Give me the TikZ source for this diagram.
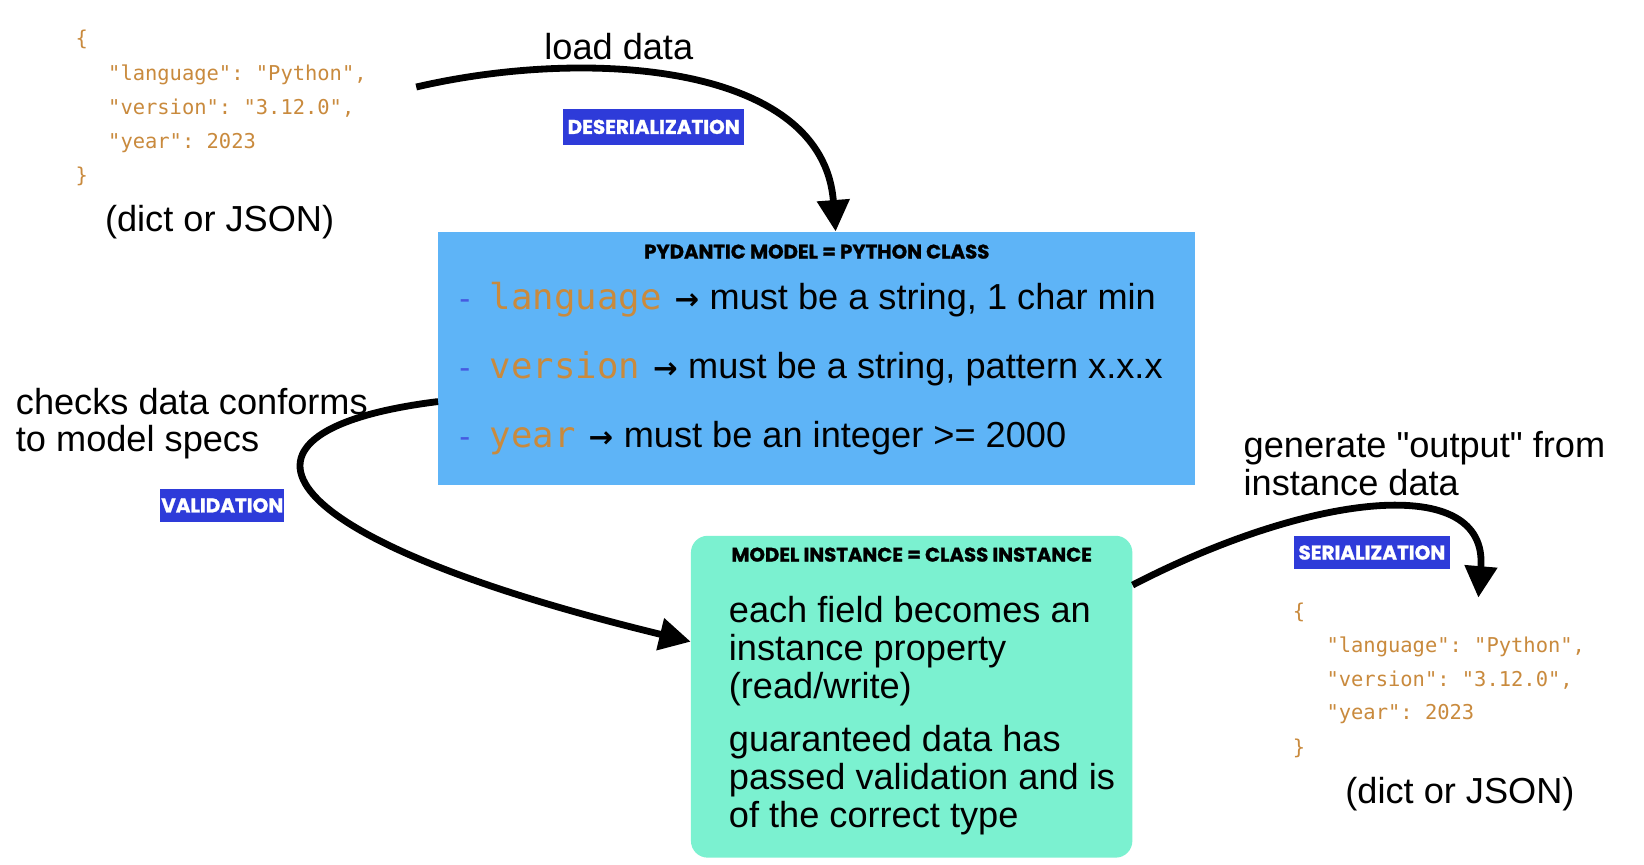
\documentclass[tikz,border=0pt]{standalone}
\usepackage{fontspec}
\setmainfont{Liberation Sans}[Ligatures=TeXOff]
\newfontfamily\codefont{DejaVu Sans Mono}
\newfontfamily\labfont{Poppins}[BoldFeatures={FakeBold=1.2}]
\newfontfamily\arrfont{DejaVu Sans}
\usetikzlibrary{arrows.meta}
\definecolor{modelblue}{RGB}{94,180,247}
\definecolor{instgreen}{RGB}{123,241,208}
\definecolor{tagblue}{RGB}{46,59,217}
\definecolor{codeorange}{RGB}{201,138,61}
\definecolor{dashblue}{RGB}{70,90,225}
\newcommand{\bodysize}{\fontsize{34.5}{36}\selectfont}
\newcommand{\codesize}{\fontsize{19.5}{22}\selectfont}
\frenchspacing
\begin{document}
\begin{tikzpicture}[x=1pt,y=-1pt,
  code/.style={anchor=west,inner sep=0pt,font=\codefont\codesize,text=codeorange},
  body/.style={anchor=west,inner sep=0pt,font=\bodysize,align=left,text=black},
  fieldname/.style={anchor=base west,inner sep=0pt,font=\codefont\fontsize{34}{40}\selectfont,text=codeorange},
  fielddash/.style={anchor=base west,inner sep=0pt,font=\codefont\fontsize{30}{36}\selectfont,text=dashblue},
  fieldtext/.style={anchor=base west,inner sep=0pt,font=\bodysize,text=black},
  tag/.style={fill=tagblue,text=white,inner sep=0pt,font=\labfont\bfseries\fontsize{19}{22}\selectfont},
  title/.style={inner sep=0pt,font=\labfont\bfseries\fontsize{18.8}{22}\selectfont,text=black},
  flow/.style={line width=6.5pt,-{Triangle[length=30pt,width=30pt]}}]
\useasboundingbox[fill=white] (0,0) rectangle (1568,825);

% top-left JSON
\node[code] (j1) at (72,38) {\{};
\node[code] (j2) at (103,71) {"language": "Python",};
\node[code] (j3) at (103,103) {"version": "3.12.0",};
\node[code] (j4) at (103,136) {"year": 2023};
\node[code] (j5) at (72,168) {\}};
\node[body] (jl) at (100,212) {(dict or JSON)};

% load data
\node[body] (ld) at (519,44) {load data};
\node[tag,minimum width=173pt,minimum height=34pt] (deser) at (623.5,121) {DESERIALIZATION};

% model box
\node[fill=modelblue,minimum width=722pt,minimum height=242pt,inner sep=0pt] (model) at (779,342) {};
\node[title] (mt) at (779,240) {PYDANTIC MODEL = PYTHON CLASS};
\node[fielddash] (d1) at (434,295) {-};
\node[fieldname] (f1) at (467,295) {language};
\node[fieldtext] (m1) at (f1.base east) {\hspace{12pt}{\arrfont\bfseries\fontsize{28}{30}\selectfont →}\hspace{10pt}must be a string, 1 char min};
\node[fielddash] (d2) at (434,361) {-};
\node[fieldname] (f2) at (467,361) {version};
\node[fieldtext] (m2) at (f2.base east) {\hspace{12pt}{\arrfont\bfseries\fontsize{28}{30}\selectfont →}\hspace{10pt}must be a string, pattern x.x.x};
\node[fielddash] (d3) at (434,427) {-};
\node[fieldname] (f3) at (467,427) {year};
\node[fieldtext] (m3) at (f3.base east) {\hspace{12pt}{\arrfont\bfseries\fontsize{28}{30}\selectfont →}\hspace{10pt}must be an integer >= 2000};

% validation text
\node[body] (chk) at (15,404) {checks data conforms\\to model specs};
\node[tag,minimum width=118pt,minimum height=32pt] (valid) at (212,482) {VALIDATION};

% instance box
\node[fill=instgreen,rounded corners=16pt,minimum width=421pt,minimum height=307pt,inner sep=0pt] (inst) at (869.5,664.5) {};
\node[title] (it) at (869.5,529) {MODEL INSTANCE = CLASS INSTANCE};
\node[body] (i1) at (695,621) {each field becomes an\\instance property\\(read/write)};
\node[body] (i2) at (695,744) {guaranteed data has\\passed validation and is\\of the correct type};

% serialization text
\node[body] (gen) at (1186,442) {generate "output" from\\instance data};
\node[tag,minimum width=149pt,minimum height=31pt] (ser) at (1308.5,527) {SERIALIZATION};

% right JSON
\node[code] (k1) at (1233,584) {\{};
\node[code] (k2) at (1265,617) {"language": "Python",};
\node[code] (k3) at (1265,649) {"version": "3.12.0",};
\node[code] (k4) at (1265,681) {"year": 2023};
\node[code] (k5) at (1233,714) {\}};
\node[body] (kl) at (1283,757) {(dict or JSON)};

% connectors
\coordinate (dstart) at (397,83);
\draw[flow] (dstart) .. controls (560,45) and (785,60) .. ([xshift=18pt]model.north);
\draw[flow] ([yshift=-41pt]model.west) .. controls (200,410) and (240,510) .. (inst.west |- 0,612);
\draw[flow] ([yshift=106.5pt]inst.east) .. controls (1250,470) and (1420,450) .. (1410,570);
\end{tikzpicture}
\end{document}
